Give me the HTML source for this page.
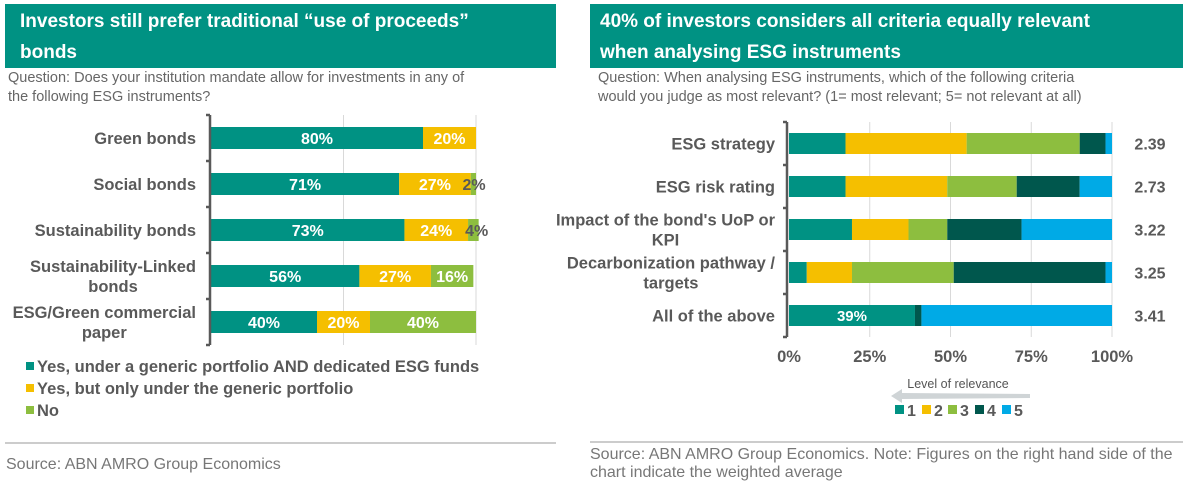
<!DOCTYPE html>
<html><head><meta charset="utf-8"><style>
body{margin:0;background:#fff;font-family:"Liberation Sans",Arial,sans-serif;}
svg{display:block}
</style></head><body>
<svg width="1189" height="484" xmlns="http://www.w3.org/2000/svg" font-family="Liberation Sans, Arial, sans-serif">
<g>
<rect x="5" y="4" width="551" height="64" fill="#009283"/>
<text x="20" y="27" font-size="19" font-weight="bold" fill="#fff">Investors still prefer traditional “use of proceeds”</text>
<text x="20" y="58" font-size="19" font-weight="bold" fill="#fff">bonds</text>
<text x="8" y="82" font-size="14.5" fill="#666">Question:  Does your institution mandate allow for investments in any of</text>
<text x="8" y="101" font-size="14.5" fill="#666">the following ESG instruments?</text>
<g id="leftChart"></g>
<g font-size="16.5" font-weight="bold" fill="#595959">
<rect x="26" y="362" width="8" height="8" fill="#009283"/><text x="37" y="372">Yes, under a generic portfolio AND dedicated ESG funds</text>
<rect x="26" y="384" width="8" height="8" fill="#F5BF00"/><text x="37" y="394">Yes, but only under the generic portfolio</text>
<rect x="26" y="406" width="8" height="8" fill="#8DBE3F"/><text x="37" y="416">No</text>
</g>
<line x1="5" y1="443" x2="556" y2="443" stroke="#bbb" stroke-width="1.5"/>
<text x="6" y="469" font-size="16" fill="#777">Source: ABN AMRO Group Economics</text>
</g>
<g>
<rect x="590" y="4" width="593" height="64" fill="#009283"/>
<text x="600" y="27" font-size="19" font-weight="bold" fill="#fff">40% of investors considers all criteria equally relevant</text>
<text x="600" y="58" font-size="19" font-weight="bold" fill="#fff">when analysing ESG instruments</text>
<text x="598" y="82" font-size="14.5" fill="#666">Question:  When analysing ESG instruments, which of the following criteria</text>
<text x="598" y="101" font-size="14.5" fill="#666">would you judge as most relevant? (1= most relevant; 5= not relevant at all)</text>
<g id="rightChart"></g>
<g>
<polygon points="891,396 902,389 902,393 1030,394 1030,398 902,399 902,403" fill="#cfd4d6"/>
<text x="958" y="388" font-size="12.5" fill="#555" text-anchor="middle">Level of relevance</text>
</g>
<g font-size="16" font-weight="bold" fill="#595959">
<rect x="895" y="405" width="9" height="9" fill="#009283"/><text x="907" y="416">1</text>
<rect x="922" y="405" width="9" height="9" fill="#F5BF00"/><text x="934" y="416">2</text>
<rect x="948" y="405" width="9" height="9" fill="#8DBE3F"/><text x="960" y="416">3</text>
<rect x="975" y="405" width="9" height="9" fill="#00574D"/><text x="987" y="416">4</text>
<rect x="1002" y="405" width="9" height="9" fill="#00AAE6"/><text x="1014" y="416">5</text>
</g>
<line x1="590" y1="442" x2="1183" y2="442" stroke="#bbb" stroke-width="1.5"/>
<text x="590" y="459" font-size="16" fill="#777">Source: ABN AMRO Group Economics. Note: Figures on the right hand side of the</text>
<text x="590" y="477" font-size="16" fill="#777">chart indicate the weighted average</text>
</g>
</svg>
<script>
const NS="http://www.w3.org/2000/svg";
const leftCats=[["Green bonds"],["Social bonds"],["Sustainability bonds"],["Sustainability-Linked","bonds"],["ESG/Green commercial","paper"]];
const leftYesBoth=[80,71,73,56,40];
const leftYesGeneric=[20,27,24,27,20];
const leftNo=[0,2,4,16,40];
const leftColors=["#009283","#F5BF00","#8DBE3F"];

const rightCats=[["ESG strategy"],["ESG risk rating"],["Impact of the bond's UoP or","KPI"],["Decarbonization pathway /","targets"],["All of the above"]];
const r1=[17.5,17.5,19.5,5.5,39];
const r2=[37.5,31.5,17.5,14,0];
const r3=[35,21.5,12,31.5,0];
const r4=[8,19.5,23,47,2];
const r5=[2,10,28,2,59];
const rightAvg=["2.39","2.73","3.22","3.25","3.41"];
const rightTicks=[0,25,50,75,100];
const rightColors=["#009283","#F5BF00","#8DBE3F","#00574D","#00AAE6"];

function el(tag,attrs,parent,txt){const e=document.createElementNS(NS,tag);for(const k in attrs)e.setAttribute(k,attrs[k]);if(txt!==undefined)e.textContent=txt;parent.appendChild(e);return e;}
function label(g,lines,right,cy,size){
 if(lines.length===1){el('text',{x:right,y:cy+6,'font-size':size,'font-weight':'bold','text-anchor':'end',fill:'#595959'},g,lines[0]);return;}
 const t=el('text',{x:right,y:cy-4,'font-size':size,'font-weight':'bold','text-anchor':'end',fill:'#595959'},g,lines[0]);
 const w=t.getComputedTextLength();
 el('text',{x:right-w/2,y:cy+16,'font-size':size,'font-weight':'bold','text-anchor':'middle',fill:'#595959'},g,lines[1]);
}

// left chart
(function(){
 const g=document.getElementById('leftChart');
 const x0=211,x1=476,top=115,band=46,bh=22;
 const xs=v=>x0+(x1-x0)*v/100;
 [50,100].forEach(t=>el('line',{x1:xs(t),x2:xs(t),y1:top,y2:top+band*5,stroke:'#d9d9d9'},g));
 const series=[leftYesBoth,leftYesGeneric,leftNo];
 leftCats.forEach((c,i)=>{
  const cy=top+band*(i+0.5);
  let acc=0;
  series.forEach((s,k)=>{
   const v=s[i]; if(v<=0)return;
   const r=el('rect',{x:xs(acc),y:cy-bh/2,width:xs(acc+v)-xs(acc),height:bh,fill:leftColors[k]},g);
   
   
   const tx=v<5?xs(acc+v)-2:xs(acc+v/2);
   el('text',{x:tx,y:cy+6,'font-size':16,'font-weight':'bold','text-anchor':'middle',fill:v<5?'#595959':'#fff'},g,v+'%');
   acc+=v;
  });
  label(g,c,196,cy,16.5);
 });
 el('line',{x1:x0-1,x2:x0-1,y1:top,y2:top+band*5,stroke:'#595959','stroke-width':2.5},g);
 for(let i=0;i<=5;i++)el('line',{x1:x0-5,x2:x0-1,y1:top+band*i,y2:top+band*i,stroke:'#595959','stroke-width':2.5},g);
})();

// right chart
(function(){
 const g=document.getElementById('rightChart');
 const x0=789,x1=1112,top=122,band=43,bh=21;
 const xs=v=>x0+(x1-x0)*v/100;
 rightTicks.forEach(t=>{
  if(t>0)el('line',{x1:xs(t),x2:xs(t),y1:top,y2:top+band*5,stroke:'#d9d9d9'},g);
  el('text',{x:xs(t),y:362,'font-size':16.5,'font-weight':'bold','text-anchor':'middle',fill:'#595959'},g,t+'%');
 });
 const series=[r1,r2,r3,r4,r5];
 rightCats.forEach((c,i)=>{
  const cy=top+band*(i+0.5);
  let acc=0;
  series.forEach((s,k)=>{
   const v=s[i]; if(v<=0)return;
   const r=el('rect',{x:xs(acc),y:cy-bh/2,width:xs(acc+v)-xs(acc),height:bh,fill:rightColors[k]},g);
   
   
   if(v>=30&&k===0)el('text',{x:xs(acc+v/2),y:cy+5.5,'font-size':15,'font-weight':'bold','text-anchor':'middle',fill:'#fff'},g,Math.round(v)+'%');
   acc+=v;
  });
  label(g,c,775,cy,16.5);
  el('text',{x:1150,y:cy+6,'font-size':16,'font-weight':'bold','text-anchor':'middle',fill:'#595959'},g,rightAvg[i]);
 });
 el('line',{x1:x0-2,x2:x0-2,y1:top,y2:top+band*5,stroke:'#595959','stroke-width':2.5},g);
 for(let i=0;i<=5;i++)el('line',{x1:x0-6,x2:x0-2,y1:top+band*i,y2:top+band*i,stroke:'#595959','stroke-width':2.5},g);
})();
</script>
</body></html>
